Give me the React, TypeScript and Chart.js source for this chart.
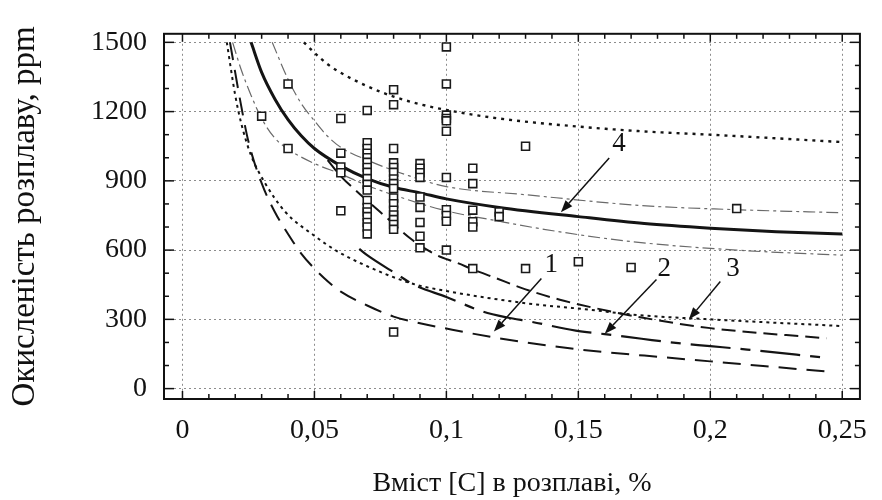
import React, { useEffect, useRef } from 'react';
import { Chart, registerables } from 'chart.js';

Chart.register(...registerables);

const FONT = '"Liberation Serif", "Times New Roman", serif';

// Axis ticks
const xTickValues = [0, 0.05, 0.1, 0.15, 0.2, 0.25];
const xTickLabels = ['0', '0,05', '0,1', '0,15', '0,2', '0,25'];
const yTickValues = [0, 300, 600, 900, 1200, 1500];
const yTickLabels = ['0', '300', '600', '900', '1200', '1500'];

const xTitle = 'Вміст [C] в розплаві, %';
const yTitle = 'Окисленість розплаву, ppm';

// Measured samples (square markers)
const sampleC = [
  0.03,
  0.04, 0.04,
  0.06, 0.06, 0.06, 0.06, 0.06,
  0.07, 0.07, 0.07, 0.07, 0.07, 0.07, 0.07, 0.07, 0.07, 0.07, 0.07, 0.07, 0.07, 0.07, 0.07, 0.07, 0.07, 0.07,
  0.08, 0.08, 0.08, 0.08, 0.08, 0.08, 0.08, 0.08, 0.08, 0.08, 0.08, 0.08, 0.08, 0.08, 0.08, 0.08, 0.08,
  0.09, 0.09, 0.09, 0.09, 0.09, 0.09, 0.09, 0.09, 0.09,
  0.1, 0.1, 0.1, 0.1, 0.1, 0.1, 0.1, 0.1, 0.1, 0.1, 0.1,
  0.11, 0.11, 0.11, 0.11, 0.11, 0.11,
  0.12, 0.12,
  0.13, 0.13,
  0.15,
  0.17,
  0.21,
];
const sampleO = [
  1180,
  1320, 1040,
  1170, 1020, 960, 935, 770,
  1205, 1065, 1040, 1020, 1000, 980, 958, 937, 910, 885, 860, 815, 785, 765, 745, 720, 700, 670,
  1295, 1230, 1040, 978, 958, 937, 908, 888, 867, 826, 801, 773, 752, 732, 711, 690, 245,
  975, 955, 935, 915, 830, 785, 720, 660, 610,
  1480, 1320, 1185, 1170, 1160, 1115, 915, 775, 750, 725, 600,
  955, 888, 773, 723, 700, 520,
  765, 745,
  1050, 520,
  550,
  525,
  780,
];

// Curve 4 (thick solid) and its band
const curve4C = [0.026, 0.03, 0.035, 0.04, 0.045, 0.05, 0.06, 0.07, 0.08, 0.09, 0.1, 0.12, 0.15, 0.175, 0.2, 0.225, 0.25];
const curve4O = [1500, 1370, 1255, 1165, 1095, 1040, 965, 910, 872, 848, 822, 785, 745, 715, 695, 680, 670];

const band4UpC = [0.034, 0.04, 0.045, 0.05, 0.055, 0.06, 0.07, 0.085, 0.1, 0.13, 0.174, 0.21, 0.25];
const band4UpO = [1500, 1340, 1235, 1160, 1093, 1045, 990, 925, 875, 840, 793, 775, 762];

const band4LoC = [0.019, 0.022, 0.026, 0.03, 0.035, 0.041, 0.05, 0.06, 0.07, 0.085, 0.1, 0.12, 0.137, 0.17, 0.21, 0.25];
const band4LoO = [1500, 1390, 1270, 1170, 1085, 1030, 975, 930, 880, 820, 770, 725, 690, 637, 600, 578];

// Upper dotted curve
const dotTopC = [0.046, 0.05, 0.055, 0.06, 0.07, 0.08, 0.09, 0.1, 0.12, 0.15, 0.175, 0.2, 0.25];
const dotTopO = [1500, 1455, 1405, 1368, 1310, 1265, 1232, 1207, 1170, 1135, 1114, 1100, 1068];

// Curve 3 (dotted)
const curve3C = [0.0168, 0.02, 0.0224, 0.026, 0.031, 0.039, 0.05, 0.0585, 0.07, 0.087, 0.1, 0.13, 0.155, 0.17, 0.2, 0.25];
const curve3O = [1500, 1270, 1143, 1010, 896, 765, 662, 596, 530, 455, 423, 370, 341, 321, 300, 271];

// Medium dashed curve
const dashMidC = [0.055, 0.06, 0.066, 0.077, 0.087, 0.096, 0.104, 0.111, 0.118, 0.13, 0.143, 0.155, 0.174, 0.2, 0.244];
const dashMidO = [990, 920, 855, 744, 645, 580, 545, 512, 482, 430, 385, 352, 308, 262, 218];

// Curve 2 (long dash - short dash)
const curve2C = [0.067, 0.0697, 0.081, 0.088, 0.1, 0.114, 0.123, 0.132, 0.149, 0.16, 0.174, 0.186, 0.2, 0.214, 0.242];
const curve2O = [605, 580, 497, 448, 397, 333, 308, 290, 251, 236, 216, 199, 184, 169, 136];

// Curve 1 (long dashes)
const curve1C = [0.018, 0.022, 0.025, 0.03, 0.035, 0.04, 0.045, 0.05, 0.055, 0.06, 0.07, 0.08, 0.09, 0.1, 0.12, 0.15, 0.175, 0.2, 0.22, 0.244];
const curve1O = [1500, 1240, 1070, 890, 765, 670, 585, 520, 465, 420, 360, 312, 283, 260, 218, 170, 143, 118, 98, 74];

// Curve labels with arrows (data coordinates)
const noteText = ['1', '2', '3', '4'];
const noteAtC = [0.1397, 0.1826, 0.2086, 0.1654];
const noteAtO = [534, 518, 518, 1060];
const arrowFromC = [0.136, 0.1796, 0.2038, 0.1617];
const arrowFromO = [477, 473, 464, 999];
const arrowToC = [0.118, 0.16, 0.1919, 0.1434];
const arrowToO = [247, 238, 300, 764];

const pts = (cs: number[], os: number[]) => cs.map((c, i) => ({ x: c, y: os[i] }));

const lineDs = (label: string, cs: number[], os: number[], width: number, dash: number[], color = '#141414') => ({
  label,
  data: pts(cs, os),
  showLine: true,
  borderColor: color,
  borderWidth: width,
  borderDash: dash,
  pointRadius: 0,
  pointHoverRadius: 0,
  fill: false,
  cubicInterpolationMode: 'monotone' as const,
});

const decorPlugin = {
  id: 'decor',
  afterDatasetsDraw(chart: any) {
    const { ctx, chartArea: a, scales } = chart;
    const x = scales.x;
    const y = scales.y;
    ctx.save();
    ctx.strokeStyle = '#111';
    ctx.lineWidth = 1.5;
    ctx.setLineDash([]);
    const seg = (x1: number, y1: number, x2: number, y2: number) => {
      ctx.beginPath();
      ctx.moveTo(x1, y1);
      ctx.lineTo(x2, y2);
      ctx.stroke();
    };
    for (let i = 0; i <= 25; i++) {
      const px = x.getPixelForValue(i / 100);
      const len = i % 5 === 0 ? 8 : 5;
      seg(px, a.bottom, px, a.bottom - len);
      seg(px, a.top, px, a.top + len);
    }
    for (let i = 0; i <= 15; i++) {
      const py = y.getPixelForValue(i * 100);
      const len = i % 3 === 0 ? 10 : 5;
      seg(a.left, py, a.left + len, py);
      seg(a.right, py, a.right - len, py);
    }
    ctx.lineWidth = 2;
    ctx.strokeRect(a.left, a.top, a.right - a.left, a.bottom - a.top);

    // arrows + labels
    ctx.lineWidth = 1.5;
    ctx.fillStyle = '#111';
    for (let i = 0; i < noteText.length; i++) {
      const x1 = x.getPixelForValue(arrowFromC[i]);
      const y1 = y.getPixelForValue(arrowFromO[i]);
      const x2 = x.getPixelForValue(arrowToC[i]);
      const y2 = y.getPixelForValue(arrowToO[i]);
      const ang = Math.atan2(y2 - y1, x2 - x1);
      const hl = 12;
      const hw = 4.5;
      const bx = x2 - hl * Math.cos(ang);
      const by = y2 - hl * Math.sin(ang);
      seg(x1, y1, bx, by);
      ctx.beginPath();
      ctx.moveTo(x2, y2);
      ctx.lineTo(bx + hw * Math.sin(ang), by - hw * Math.cos(ang));
      ctx.lineTo(bx - hw * Math.sin(ang), by + hw * Math.cos(ang));
      ctx.closePath();
      ctx.fill();
      ctx.font = `27px ${FONT}`;
      ctx.textAlign = 'center';
      ctx.textBaseline = 'middle';
      ctx.fillText(noteText[i], x.getPixelForValue(noteAtC[i]), y.getPixelForValue(noteAtO[i]));
    }
    ctx.restore();
  },
};

export default function App() {
  const ref = useRef<HTMLCanvasElement>(null);
  useEffect(() => {
    if (!ref.current) return;
    const chart = new Chart(ref.current, {
      type: 'scatter',
      data: {
        datasets: [
          {
            label: 'samples',
            data: pts(sampleC, sampleO),
            pointStyle: 'rect',
            pointRadius: 5.6,
            pointBorderWidth: 1.6,
            pointBackgroundColor: '#ffffff',
            pointBorderColor: '#1a1a1a',
            showLine: false,
          } as any,
          lineDs('4', curve4C, curve4O, 3, []),
          lineDs('4 upper', band4UpC, band4UpO, 1.2, [12, 4, 3, 4], '#6a6a6a'),
          lineDs('4 lower', band4LoC, band4LoO, 1.2, [12, 4, 3, 4], '#6a6a6a'),
          lineDs('upper dotted', dotTopC, dotTopO, 2.4, [3, 5]),
          lineDs('3', curve3C, curve3O, 2, [3, 4]),
          lineDs('mid dashed', dashMidC, dashMidO, 2, [14, 7]),
          lineDs('2', curve2C, curve2O, 2.2, [40, 10, 10, 10]),
          lineDs('1', curve1C, curve1O, 2, [18, 10]),
        ],
      },
      options: {
        animation: false,
        responsive: false,
        devicePixelRatio: 1,
        layout: { padding: { top: 14, right: 10, left: 0, bottom: 0 } },
        plugins: { legend: { display: false }, tooltip: { enabled: false } },
        scales: {
          x: {
            type: 'linear',
            min: -0.007,
            max: 0.2567,
            afterBuildTicks: (s: any) => {
              s.ticks = xTickValues.map((value) => ({ value }));
            },
            afterFit: (s: any) => {
              s.height = 101;
            },
            ticks: {
              callback: (_v: any, i: number) => xTickLabels[i],
              font: { family: FONT, size: 28 },
              color: '#111',
              padding: 15,
              maxRotation: 0,
              autoSkip: false,
            },
            grid: { color: '#8c8c8c', lineWidth: 1, drawTicks: false },
            border: { display: false, dash: [2, 3] },
            title: {
              display: true,
              text: xTitle,
              font: { family: FONT, size: 28 },
              color: '#111',
              padding: { top: 0, bottom: 0 },
            },
          },
          y: {
            type: 'linear',
            min: -45,
            max: 1537,
            afterBuildTicks: (s: any) => {
              s.ticks = yTickValues.map((value) => ({ value }));
            },
            afterFit: (s: any) => {
              s.width = 164;
            },
            ticks: {
              callback: (_v: any, i: number) => yTickLabels[i],
              font: { family: FONT, size: 28 },
              color: '#111',
              padding: 17,
              autoSkip: false,
            },
            grid: { color: '#8c8c8c', lineWidth: 1, drawTicks: false },
            border: { display: false, dash: [2, 3] },
            title: {
              display: true,
              text: yTitle,
              font: { family: FONT, size: 33 },
              color: '#111',
              padding: { top: 6, bottom: 0 },
            },
          },
        },
      },
      plugins: [decorPlugin],
    });
    return () => chart.destroy();
  }, []);
  return (
    <div style={{ position: 'fixed', left: 0, top: 0, width: 882, height: 500, background: '#fff' }}>
      <canvas ref={ref} width={882} height={500} style={{ display: 'block' }} />
    </div>
  );
}
